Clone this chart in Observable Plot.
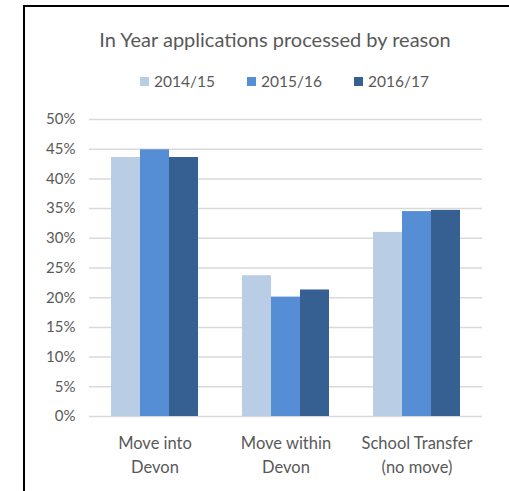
<!DOCTYPE html>
<html><head><meta charset="utf-8">
<script src="https://cdn.jsdelivr.net/npm/d3@7"></script>
<script src="https://cdn.jsdelivr.net/npm/@observablehq/plot@0.6"></script>
<style>
body{margin:0;background:#fff;}
#wrap{position:relative;width:509px;height:491px;overflow:hidden;font-family:Lato,sans-serif;color:#595959;background:#fff;}
#frame{position:absolute;left:23px;top:5px;width:600px;height:600px;border-left:2.5px solid #000;border-top:2.5px solid #000;}
#title{position:absolute;left:0;width:550px;top:27px;text-align:center;font-size:20px;white-space:nowrap;}
#legend{position:absolute;left:0;width:569px;top:72px;display:flex;justify-content:center;align-items:center;font-size:15.5px;white-space:nowrap;}
#legend .it{display:flex;align-items:center;margin:0 16px;}
#legend .sw{width:9px;height:9px;margin-right:5px;}
#chart{position:absolute;left:0;top:100px;}
</style>
</head><body>
<div id="wrap">
<div id="frame"></div>
<div id="title"></div>
<div id="legend"></div>
<div id="chart"></div>
</div>
<script>
const titleText = "In Year applications processed by reason";
const categories = ["Move into Devon", "Move within Devon", "School Transfer (no move)"];
const categoryLabels = ["Move into\nDevon", "Move within\nDevon", "School Transfer\n(no move)"];
const years = ["2014/15", "2015/16", "2016/17"];
const v2014 = [43.6, 23.7, 31.0];
const v2015 = [44.9, 20.1, 34.5];
const v2016 = [43.6, 21.3, 34.7];
const yTicks = [0, 5, 10, 15, 20, 25, 30, 35, 40, 45, 50];
const colors = ["#b9cde5", "#558ed5", "#376092"];

const series = [v2014, v2015, v2016];
const data = [];
categories.forEach((c, i) => years.forEach((y, j) => data.push({category: c, year: y, value: series[j][i]})));

document.getElementById("title").textContent = titleText;
const leg = document.getElementById("legend");
years.forEach((y, j) => {
  const it = document.createElement("div"); it.className = "it";
  const sw = document.createElement("div"); sw.className = "sw"; sw.style.background = colors[j];
  const t = document.createElement("span"); t.textContent = y;
  it.append(sw, t); leg.append(it);
});

const labelOf = new Map(categories.map((c, i) => [c, categoryLabels[i]]));

const chart = Plot.plot({
  width: 509, height: 391,
  marginTop: 19, marginBottom: 75, marginLeft: 88, marginRight: 26,
  style: {fontFamily: "Lato, sans-serif", color: "#595959", background: "transparent"},
  fx: {domain: categories, paddingInner: 0, paddingOuter: 0, label: null},
  x: {domain: years, paddingInner: 0, paddingOuter: 0.746, axis: null},
  y: {domain: [0, 50], label: null},
  color: {domain: years, range: colors},
  marks: [
    Plot.gridY(yTicks, {stroke: "#d9d9d9", strokeOpacity: 1, strokeWidth: 1.5}),
    Plot.barY(data, {fx: "category", x: "year", y: "value", fill: "year", inset: 0}),
    Plot.axisY(yTicks, {tickSize: 0, tickPadding: 14, tickFormat: d => d + "%", fontSize: 15, fill: "#595959", label: null}),
    Plot.axisFx({anchor: "bottom", tickSize: 0, tickPadding: 16, tickFormat: d => labelOf.get(d), fontSize: 16.5, lineHeight: 1.42, fill: "#595959", label: null})
  ]
});
document.getElementById("chart").append(chart);
</script>
</body></html>
